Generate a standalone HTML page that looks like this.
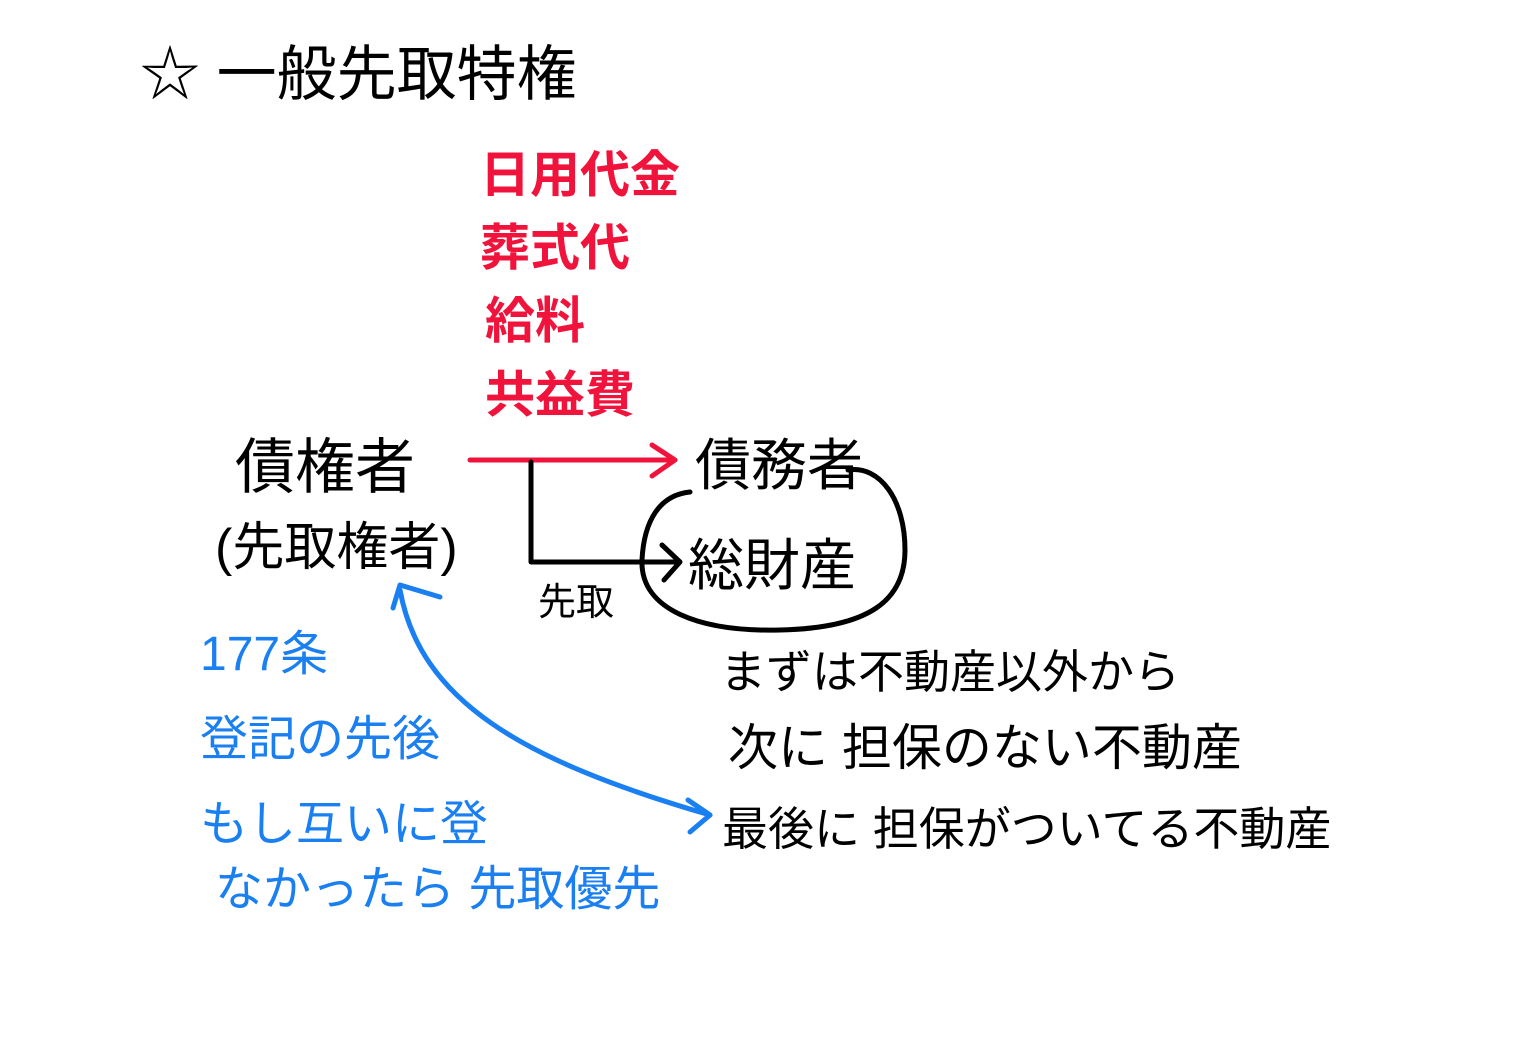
<!DOCTYPE html>
<html><head><meta charset="utf-8"><style>
html,body{margin:0;padding:0;background:#fff;}
svg{display:block}
text{font-family:"Liberation Sans","Noto Sans CJK JP",sans-serif;}
</style></head><body>
<svg width="1536" height="1046" viewBox="0 0 1536 1046" xmlns="http://www.w3.org/2000/svg">
<rect width="1536" height="1046" fill="#fff"/>
<text x="140" y="95" font-size="60" fill="#000">☆ 一般先取特権</text>
<g fill="#f0143c" font-size="50" font-weight="bold">
<text x="480" y="192">日用代金</text>
<text x="480" y="265">葬式代</text>
<text x="485" y="338">給料</text>
<text x="485" y="412">共益費</text>
</g>
<text x="235" y="488" font-size="60" fill="#000">債権者</text>
<text x="215" y="565" font-size="52" fill="#000">(先取権者)</text>
<text x="695" y="485" font-size="56" fill="#000">債務者</text>
<text x="688" y="585" font-size="56" fill="#000">総財産</text>
<text x="538" y="615" font-size="38" fill="#000">先取</text>
<path d="M470 460 L675 460 M652 445 L675 460 L652 476" stroke="#f0143c" stroke-width="5" fill="none" stroke-linecap="round" stroke-linejoin="round"/>
<path d="M531 462 L531 562 L680 562 M662 545 L680 562 L664 580" stroke="#000" stroke-width="5" fill="none" stroke-linecap="round" stroke-linejoin="round"/>
<path d="M848 470 C880 465 905 500 905 550 C905 600 870 628 780 630 C700 632 640 610 642 560 C644 520 660 495 690 492" stroke="#000" stroke-width="5" fill="none" stroke-linecap="round"/>
<g fill="#000">
<text x="720" y="688" font-size="46">まずは不動産以外から</text>
<text x="728" y="765" font-size="50">次に 担保のない不動産</text>
<text x="722" y="845" font-size="46">最後に 担保がついてる不動産</text>
</g>
<g fill="#1a7ff0" font-size="48">
<text x="200" y="670">177条</text>
<text x="200" y="755">登記の先後</text>
<text x="200" y="840">もし互いに登</text>
<text x="215" y="905">なかったら 先取優先</text>
</g>
<path d="M400 590 C420 700 520 760 710 815" stroke="#1a7ff0" stroke-width="5" fill="none" stroke-linecap="round"/>
<path d="M393 608 L400 585 L440 597 M688 800 L710 815 L690 832" stroke="#1a7ff0" stroke-width="5" fill="none" stroke-linecap="round" stroke-linejoin="round"/>
</svg>
</body></html>
